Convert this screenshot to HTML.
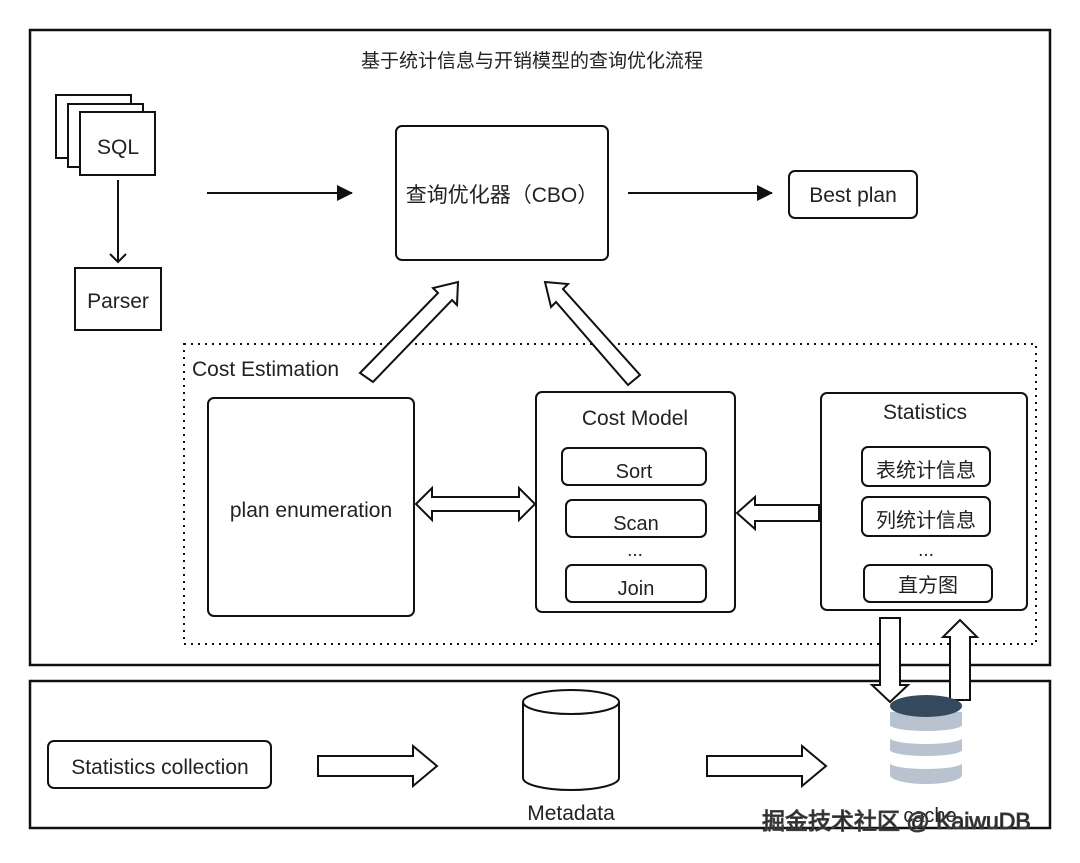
<!DOCTYPE html>
<html><head><meta charset="utf-8"><style>
body{margin:0;background:#fff;}
text{font-family:"Liberation Sans","Noto Sans CJK SC",sans-serif;fill:#222;}
</style></head><body>
<svg width="1080" height="858" viewBox="0 0 1080 858" xmlns="http://www.w3.org/2000/svg">
<defs><marker id="ah" markerWidth="16" markerHeight="16" refX="15" refY="8" orient="auto" markerUnits="userSpaceOnUse"><path d="M0,0 L16,8 L0,16 z" fill="#111"/></marker></defs>
<g fill="none" stroke="#111" stroke-width="2.5">
<rect x="30" y="30" width="1020" height="635"/>
<rect x="30" y="681" width="1020" height="147"/>
</g>
<text x="532" y="67" font-size="19" text-anchor="middle">基于统计信息与开销模型的查询优化流程</text>
<g fill="#fff" stroke="#111" stroke-width="2">
<rect x="56" y="95" width="75" height="63"/>
<rect x="68" y="104" width="75" height="63"/>
<rect x="80" y="112" width="75" height="63"/>
<rect x="75" y="268" width="86" height="62"/>
<rect x="396" y="126" width="212" height="134" rx="6"/>
<rect x="789" y="171" width="128" height="47" rx="6"/>
</g>
<text x="118" y="154" font-size="21" text-anchor="middle">SQL</text>
<text x="118" y="308" font-size="21" text-anchor="middle">Parser</text>
<text x="502" y="202" font-size="21" text-anchor="middle">查询优化器（CBO）</text>
<text x="853" y="202" font-size="21" text-anchor="middle">Best plan</text>
<g stroke="#111" stroke-width="2" fill="none">
<line x1="118" y1="180" x2="118" y2="262"/>
<polyline points="110,254 118,262 126,254"/>
<line x1="207" y1="193" x2="352" y2="193" marker-end="url(#ah)"/>
<line x1="628" y1="193" x2="772" y2="193" marker-end="url(#ah)"/>
</g>
<rect x="184" y="344" width="852" height="300" fill="none" stroke="#111" stroke-width="2" stroke-dasharray="2,5"/>
<text x="192" y="376" font-size="21">Cost Estimation</text>
<g fill="#fff" stroke="#111" stroke-width="2">
<polygon points="360,373 438,293 433,288 458,282 457,305 452,300 373,382"/>
<polygon points="628,385 556,302 551,307 545,282 568,284 563,289 640,375"/>
<rect x="208" y="398" width="206" height="218" rx="6"/>
<rect x="536" y="392" width="199" height="220" rx="6"/>
<rect x="821" y="393" width="206" height="217" rx="6"/>
<rect x="562" y="448" width="144" height="37" rx="6"/>
<rect x="566" y="500" width="140" height="37" rx="6"/>
<rect x="566" y="565" width="140" height="37" rx="6"/>
<rect x="862" y="447" width="128" height="39" rx="6"/>
<rect x="862" y="497" width="128" height="39" rx="6"/>
<rect x="864" y="565" width="128" height="37" rx="6"/>
<polygon points="416,504 432,488 432,497 519,497 519,488 535,504 519,520 519,511 432,511 432,520"/>
<polygon points="737,513 755,497 755,505 819,505 819,521 755,521 755,529"/>
<polygon points="880,618 900,618 900,685 908,685 890,702 872,685 880,685"/>
<polygon points="950,700 970,700 970,637 977,637 960,620 943,637 950,637"/>
<rect x="48" y="741" width="223" height="47" rx="6"/>
<polygon points="318,756 413,756 413,746 437,766 413,786 413,776 318,776"/>
<polygon points="707,756 802,756 802,746 826,766 802,786 802,776 707,776"/>
<path d="M523,702 L523,778 A48,12 0 0 0 619,778 L619,702"/>
<ellipse cx="571" cy="702" rx="48" ry="12"/>
</g>
<text x="311" y="517" font-size="21" text-anchor="middle">plan enumeration</text>
<text x="635" y="425" font-size="21" text-anchor="middle">Cost Model</text>
<text x="634" y="478" font-size="20" text-anchor="middle">Sort</text>
<text x="636" y="530" font-size="20" text-anchor="middle">Scan</text>
<text x="635" y="556" font-size="19" text-anchor="middle">...</text>
<text x="636" y="595" font-size="20" text-anchor="middle">Join</text>
<text x="925" y="419" font-size="21" text-anchor="middle">Statistics</text>
<text x="926" y="477" font-size="20" text-anchor="middle">表统计信息</text>
<text x="926" y="527" font-size="20" text-anchor="middle">列统计信息</text>
<text x="926" y="556" font-size="19" text-anchor="middle">...</text>
<text x="928" y="592" font-size="20" text-anchor="middle">直方图</text>
<text x="160" y="774" font-size="21" text-anchor="middle">Statistics  collection</text>
<text x="571" y="820" font-size="21" text-anchor="middle">Metadata</text>
<g>
<path d="M890,763 L890,775 A36,9 0 0 0 962,775 L962,763 A36,6 0 0 1 890,763 z" fill="#b9c3cf"/>
<path d="M890,738 L890,750 A36,6 0 0 0 962,750 L962,738 A36,6 0 0 1 890,738 z" fill="#b9c3cf"/>
<path d="M890,712 L890,725 A36,6 0 0 0 962,725 L962,712 z" fill="#b9c3cf"/>
<ellipse cx="926" cy="706" rx="36" ry="11" fill="#34495e"/>
</g>
<text x="930" y="822" font-size="20" text-anchor="middle">cache</text>
<text x="762" y="829" font-size="23" fill="#fff" stroke="#444" stroke-width="1">掘金技术社区 @ KaiwuDB</text>
</svg>
</body></html>
